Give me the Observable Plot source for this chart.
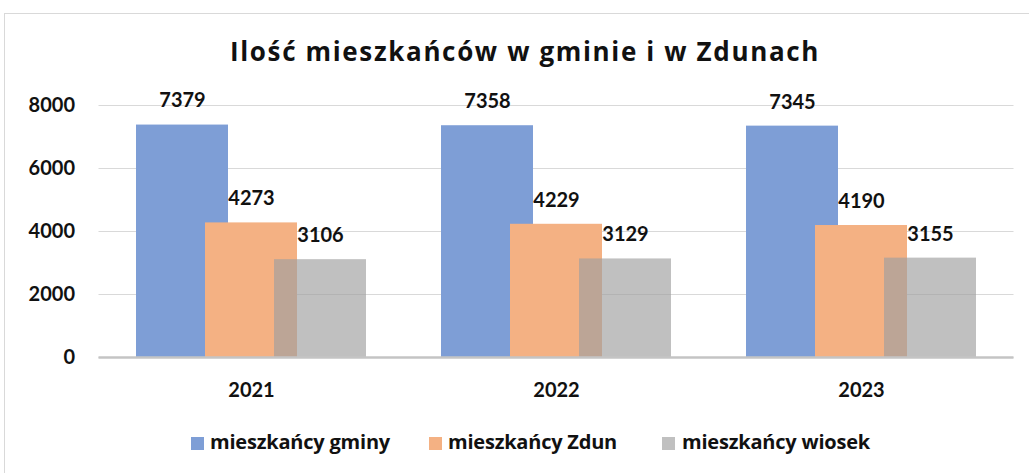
<!DOCTYPE html>
<html>
<head>
<meta charset="utf-8">
<script src="https://cdn.jsdelivr.net/npm/d3@7"></script>
<script src="https://cdn.jsdelivr.net/npm/@observablehq/plot@0.6"></script>
<style>
  html, body { margin: 0; padding: 0; background: #fff; }
  #wrap { position: relative; width: 1029px; height: 473px; overflow: hidden; font-family: Lato, "Open Sans", sans-serif; }
  #frame { position: absolute; left: 4px; top: 13px; width: 1060px; height: 500px; border: 1.5px solid #d9d9d9; box-sizing: border-box; }
  #title { position: absolute; left: 230px; top: 34px; font-family: "Open Sans", Lato, sans-serif; font-size: 26px; font-weight: 700; color: #111; white-space: nowrap; line-height: 34px; }
  #chart { position: absolute; left: 0; top: 80px; }
  #legend { position: absolute; top: 428px; left: 0; width: 1029px; height: 28px; }
  .sw { position: absolute; top: 9px; width: 13px; height: 13px; }
  .lt { position: absolute; top: 0; font-family: "Open Sans", Lato, sans-serif; font-size: 20px; font-weight: 700; color: #111; white-space: nowrap; line-height: 28px; }
</style>
</head>
<body>
<div id="wrap">
  <div id="frame"></div>
  <div id="title">Ilość mieszkańców w gminie i w Zdunach</div>
  <div id="chart"></div>
  <div id="legend"></div>
</div>
<script>
const years = ["2021", "2022", "2023"];
const seriesNames = ["mieszkańcy gminy", "mieszkańcy Zdun", "mieszkańcy wiosek"];
const gmina = [7379, 7358, 7345];
const zdun = [4273, 4229, 4190];
const wiosek = [3106, 3129, 3155];
const yTicks = [0, 2000, 4000, 6000, 8000];
const colors = ["#7e9ed6", "#f4b183", "#a0a0a0"];
const legendColors = ["#7e9ed6", "#f4b183", "#c0c0c0"];

const seriesValues = [gmina, zdun, wiosek];
const offsets = [-69, 0, 69];
const opacities = [1, 1, 0.66];

const marks = [
  Plot.gridY(yTicks, { stroke: "#d9d9d9", strokeOpacity: 1, strokeWidth: 1.2 }),
];
seriesValues.forEach((vals, i) => {
  const rows = years.map((y, j) => ({ year: y, value: vals[j] }));
  marks.push(Plot.barY(rows, { x: "year", y: "value", dx: offsets[i], fill: colors[i], fillOpacity: opacities[i] }));
});
marks.push(Plot.ruleY([0], { stroke: "#c4c4c4", strokeWidth: 2.5 }));
seriesValues.forEach((vals, i) => {
  const rows = years.map((y, j) => ({ year: y, value: vals[j] }));
  marks.push(Plot.text(rows, { x: "year", y: "value", text: d => String(d.value), dx: offsets[i], dy: -24, fontSize: 20, fontWeight: 700, fill: "#111" }));
});

const chart = Plot.plot({
  width: 1029,
  height: 330,
  marginLeft: 98.5,
  marginRight: 15.5,
  marginTop: 25,
  marginBottom: 53,
  style: { fontFamily: "Lato, 'Open Sans', sans-serif", background: "transparent", color: "#111" },
  x: { type: "band", domain: years, paddingInner: 0.698, paddingOuter: 0.349, label: null },
  y: { domain: [0, 8000], ticks: yTicks, label: null },
  marks: [
    ...marks,
    Plot.axisY({ ticks: yTicks, tickSize: 0, tickPadding: 24, fontSize: 20, fontWeight: 700, label: null, tickFormat: d => String(d) }),
    Plot.axisX({ tickSize: 0, tickPadding: 25, fontSize: 20, fontWeight: 700, label: null })
  ]
});
document.getElementById("chart").appendChild(chart);

function fitWidth(el, target) {
  el.style.letterSpacing = "0px";
  const w = el.getBoundingClientRect().width;
  const n = el.textContent.length;
  el.style.letterSpacing = ((target - w) / n) + "px";
}

fitWidth(document.getElementById("title"), 590);

const legend = document.getElementById("legend");
const swatchX = [191, 429, 662];
const textX = [210, 448, 682];
const textW = [180, 169, 188];
seriesNames.forEach((name, i) => {
  const sw = document.createElement("div");
  sw.className = "sw";
  sw.style.left = swatchX[i] + "px";
  sw.style.background = legendColors[i];
  const t = document.createElement("span");
  t.className = "lt";
  t.style.left = textX[i] + "px";
  t.textContent = name;
  legend.appendChild(sw);
  legend.appendChild(t);
  fitWidth(t, textW[i]);
});
</script>
</body>
</html>
